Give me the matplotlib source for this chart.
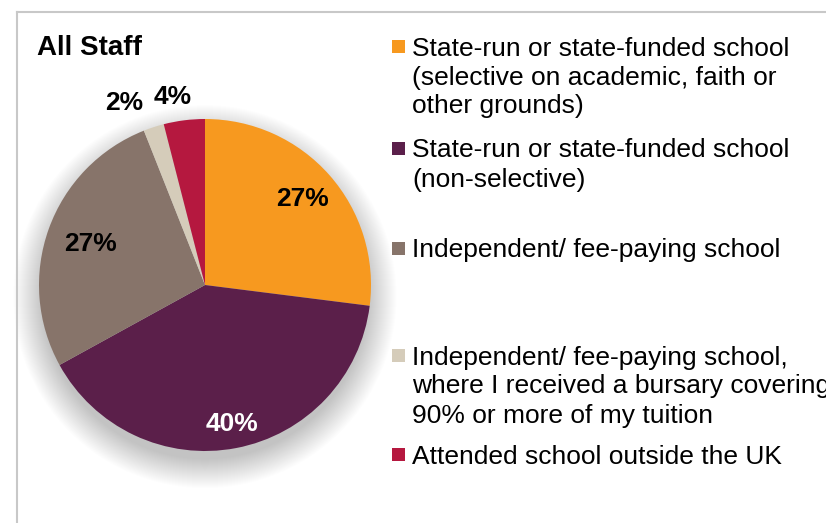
import matplotlib.pyplot as plt
import numpy as np
from matplotlib.patches import Circle, Rectangle
from matplotlib.lines import Line2D

plt.rcParams['font.family'] = ['Liberation Sans', 'DejaVu Sans']

# data
categories = [
    "State-run or state-funded school\n(selective on academic, faith or\nother grounds)",
    "State-run or state-funded school\n(non-selective)",
    "Independent/ fee-paying school",
    "Independent/ fee-paying school,\nwhere I received a bursary covering\n90% or more of my tuition",
    "Attended school outside the UK",
]
values = [27, 40, 27, 2, 4]
labels = ["27%", "40%", "27%", "2%", "4%"]
colors = ["#F7991F", "#5B1F4A", "#87746A", "#D5CCBA", "#B5183F"]

W, H = 826, 523
fig = plt.figure(figsize=(W / 100, H / 100), dpi=100)

# chart border (light grey frame, cut at right/bottom)
fig.add_artist(Line2D([16.5 / W, 16.5 / W], [0, 1 - 11.5 / H], color="#C8C8C8", lw=1.5))
fig.add_artist(Line2D([16.5 / W, 1], [1 - 11.5 / H, 1 - 11.5 / H], color="#C8C8C8", lw=1.5))

# pie axes
cx, cy, r = 205, 285, 166
ax = fig.add_axes([(cx - r) / W, (H - cy - r) / H, 2 * r / W, 2 * r / H])

# soft shadow
for i in range(30):
    ax.add_patch(Circle((0, -0.07), 0.98 + 0.006 * i, color="black", alpha=0.007,
                        lw=0, zorder=0, clip_on=False))

wedges, _ = ax.pie(values, colors=colors, startangle=90, counterclock=False,
                   wedgeprops=dict(linewidth=0))
for w in wedges:
    w.set_zorder(2)
ax.set_xlim(-1, 1)
ax.set_ylim(-1, 1)
ax.set_aspect("equal")
ax.axis("off")

# data labels
lab_r = [0.78, 0.855, 0.735, 1.2, 1.15]
lab_col = ["black", "white", "black", "black", "black"]
lab_shift = [0, 0, 0, 6, 2.5]
total = sum(values)
start = 90.0
for v, lab, rr, col, sh in zip(values, labels, lab_r, lab_col, lab_shift):
    mid = start - v / total * 360 / 2 + sh
    start -= v / total * 360
    t = np.deg2rad(mid)
    ax.text(rr * np.cos(t), rr * np.sin(t), lab, ha="center", va="center",
            fontsize=19, fontweight="bold", color=col, zorder=5, clip_on=False)

# title
fig.text(37 / W, 1 - 48 / H, "All Staff", fontsize=20, fontweight="bold", va="center", ha="left")

# legend
entry_y = [46, 148, 248, 355, 454]
line_h = 29
for name, col, y0 in zip(categories, colors, entry_y):
    fig.add_artist(Rectangle((392 / W, 1 - (y0 + 6.5) / H), 13 / W, 13 / H,
                             facecolor=col, edgecolor="none", transform=fig.transFigure))
    for i, line in enumerate(name.split("\n")):
        fig.text(412 / W, 1 - (y0 + i * line_h) / H, line, fontsize=19,
                 va="center_baseline", ha="left")

fig.savefig("out.png", dpi=100)
